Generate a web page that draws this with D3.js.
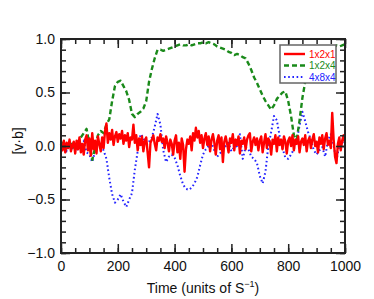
<!DOCTYPE html>
<html lang="en">
<head>
<meta charset="UTF-8" />
<title>v.b vs time</title>
<script src="https://d3js.org/d3.v7.js"></script>
<style>
  body { margin: 0; background: #fff; }
  text { font-family: "Liberation Sans", Arial, sans-serif; }
</style>
</head>
<body>
<div id="graph-space"></div>
<script>
  // series values
  const seriesNames = ["1x2x1", "1x2x4", "4x8x4"];
  const redStep = 5;
  const red = [
    0.02, -0.04, 0.05, -0.06, 0.03, -0.02, 0.06, -0.05, 0.01, 0.04,
    -0.07, 0.05, -0.03, 0.08, -0.06, 0.02, -0.08, 0.06, 0.10, -0.04,
    0.07, -0.09, 0.12, -0.03, 0.05, -0.07, 0.09, 0.02, -0.05, 0.08,
    -0.02, 0.14, 0.21, 0.03, 0.12, 0.06, 0.15, 0.01, 0.09, 0.13,
    0.04, 0.11, 0.07, 0.14, 0.02, 0.10, 0.05, 0.12, -0.01, 0.08,
    0.06, 0.20, 0.03, 0.10, -0.04, 0.07, 0.01, 0.09, -0.05, 0.04,
    0.08, -0.06, -0.20, 0.03, 0.06, 0.10, 0.02, -0.04, 0.08, 0.05,
    0.11, 0.04, 0.07, -0.02, 0.09, 0.03, -0.05, 0.06, 0.02, -0.08,
    0.05, 0.10, -0.06, 0.03, -0.12, 0.07, 0.01, -0.24, -0.03, 0.06,
    0.02, 0.09, -0.04, 0.12, 0.05, 0.17, 0.08, 0.14, 0.03, 0.10,
    -0.02, 0.07, 0.12, 0.01, 0.09, -0.05, 0.06, 0.11, 0.03, -0.08,
    0.05, 0.10, -0.03, 0.08, -0.15, 0.04, 0.09, 0.02, -0.06, 0.07,
    0.03, 0.11, -0.04, 0.06, 0.01, 0.09, -0.07, 0.05, 0.02, 0.08,
    -0.03, 0.06, 0.10, 0.12, -0.05, 0.04, 0.08, 0.01, 0.07, -0.04,
    0.05, 0.09, -0.06, 0.03, 0.11, -0.02, 0.07, 0.04, -0.08, 0.06,
    0.02, 0.10, -0.05, 0.08, 0.01, 0.06, -0.03, 0.09, 0.04, -0.07,
    0.05, 0.08, 0.00, 0.10, -0.04, 0.06, 0.02, 0.09, -0.06, 0.04,
    0.07, 0.01, 0.10, -0.05, 0.05, 0.08, -0.02, 0.06, 0.11, 0.00,
    0.04, -0.06, 0.08, 0.02, 0.10, -0.03, 0.07, 0.12, 0.01, 0.05,
    -0.02, 0.31, 0.06, -0.10, -0.16, 0.02, 0.08, -0.04, 0.05, 0.10,
    0.03
  ];
  const slowStep = 10;
  const green = [
    0.00, 0.04, -0.02, 0.03, 0.01, -0.03, 0.04, 0.08, 0.12, 0.16,
    0.02, -0.13, -0.02, 0.10, 0.14, 0.12, 0.20, 0.25, 0.42, 0.56,
    0.60, 0.61, 0.56, 0.51, 0.43, 0.30, 0.27, 0.30, 0.32, 0.35,
    0.42, 0.60, 0.72, 0.82, 0.90, 0.90, 0.89, 0.90, 0.91, 0.92,
    0.93, 0.94, 0.95, 0.94, 0.94, 0.95, 0.94, 0.95, 0.96, 0.96,
    0.97, 0.96, 0.97, 0.96, 0.95, 0.93, 0.92, 0.91, 0.90, 0.88,
    0.87, 0.85, 0.86, 0.85, 0.83, 0.82, 0.77, 0.71, 0.64, 0.59,
    0.53, 0.47, 0.42, 0.38, 0.34, 0.38, 0.44, 0.47, 0.50, 0.51,
    0.42, 0.28, 0.10, 0.06, 0.24, 0.45, 0.60, 0.72, 0.82, 0.88,
    0.88, 0.90, 0.92, 0.90, 0.92, 0.93, 0.92, 0.94, 0.93, 0.94,
    0.95
  ];
  const blue = [
    -0.03, 0.02, -0.05, 0.01, -0.02, 0.03, -0.04, 0.00, 0.05, -0.06,
    -0.08, -0.15, -0.05, 0.02, 0.00, -0.04, -0.12, -0.30, -0.45, -0.53,
    -0.50, -0.45, -0.52, -0.57, -0.50, -0.44, -0.22, -0.05, 0.11, 0.08,
    0.00, 0.04, 0.08, 0.18, 0.30, 0.20, -0.04, -0.15, -0.10, -0.08,
    -0.11, -0.18, -0.28, -0.36, -0.40, -0.41, -0.39, -0.35, -0.29, -0.18,
    -0.08, -0.03, 0.00, 0.03, -0.04, -0.10, -0.07, -0.03, 0.00, 0.03,
    -0.05, -0.01, 0.00, 0.11, -0.12, -0.01, -0.03, -0.10, -0.12, -0.16,
    -0.28, -0.35, -0.24, 0.00, 0.13, 0.28, 0.24, 0.09, -0.02, -0.11,
    -0.12, -0.08, -0.03, 0.05, 0.19, 0.32, 0.23, 0.13, 0.06, -0.04,
    -0.08, -0.04, -0.01, -0.10, 0.05, 0.11, 0.00, -0.13, 0.00, 0.04,
    -0.02
  ];
  const xTicks = [0, 200, 400, 600, 800, 1000];
  const yTicks = [-1.0, -0.5, 0.0, 0.5, 1.0];

  const width = 374
  const height = 299
  const margin = { left: 61, top: 39, right: 29, bottom: 46 }

  const svg = d3.select("#graph-space")
    .append("svg")
    .attr("width", width)
    .attr("height", height)

  const xScale = d3.scaleLinear()
    .domain([0, 1000])
    .range([margin.left, width - margin.right])
  const yScale = d3.scaleLinear()
    .domain([-1, 1])
    .range([height - margin.bottom, margin.top])

  const colors = ["#ff0000", "#1a8a1a", "#2323ff"]
  const dashes = [null, "5,3", "1.6,2.6"]
  const widths = [2.4, 2.4, 2]

  const series = [
    red.map((v, i) => [i * redStep, v]),
    green.map((v, i) => [i * slowStep, v]),
    blue.map((v, i) => [i * slowStep, v])
  ]

  const line = d3.line()
    .x(d => xScale(d[0]))
    .y(d => yScale(d[1]))

  // draw lines: blue first, then green, red on top
  const order = [2, 1, 0]
  order.forEach(k => {
    svg.append("path")
      .datum(series[k])
      .attr("fill", "none")
      .attr("stroke", colors[k])
      .attr("stroke-width", widths[k])
      .attr("stroke-dasharray", dashes[k])
      .attr("stroke-linejoin", "round")
      .attr("d", line)
  })

  // axes, ticks inward on all four sides
  const fmtY = d => d3.format(".1f")(d).replace("-", "\u2212")
  const tickStyle = g => {
    g.select(".domain").remove()
    g.selectAll("line").attr("stroke", "#222").attr("stroke-width", 1.5)
  }
  const xMinor = d3.range(0, 1001, 50)
  const yMinor = d3.range(-10, 11).map(d => d / 10)

  svg.append("g")
    .attr("transform", `translate(0,${height - margin.bottom})`)
    .call(d3.axisBottom(xScale).tickValues(xMinor).tickSize(-5).tickFormat(""))
    .call(tickStyle)
  svg.append("g")
    .attr("transform", `translate(0,${height - margin.bottom})`)
    .call(d3.axisBottom(xScale).tickValues(xTicks).tickSize(-9).tickPadding(8).tickFormat(d3.format("d")))
    .call(tickStyle)
    .selectAll("text").attr("font-size", 14).attr("fill", "#111")
  svg.append("g")
    .attr("transform", `translate(0,${margin.top})`)
    .call(d3.axisTop(xScale).tickValues(xMinor).tickSize(-5).tickFormat(""))
    .call(tickStyle)
  svg.append("g")
    .attr("transform", `translate(0,${margin.top})`)
    .call(d3.axisTop(xScale).tickValues(xTicks).tickSize(-9).tickFormat(""))
    .call(tickStyle)

  svg.append("g")
    .attr("transform", `translate(${margin.left},0)`)
    .call(d3.axisLeft(yScale).tickValues(yMinor).tickSize(-5).tickFormat(""))
    .call(tickStyle)
  svg.append("g")
    .attr("transform", `translate(${margin.left},0)`)
    .call(d3.axisLeft(yScale).tickValues(yTicks).tickSize(-9).tickPadding(6).tickFormat(fmtY))
    .call(tickStyle)
    .selectAll("text").attr("font-size", 14).attr("fill", "#111")
  svg.append("g")
    .attr("transform", `translate(${width - margin.right},0)`)
    .call(d3.axisRight(yScale).tickValues(yMinor).tickSize(-5).tickFormat(""))
    .call(tickStyle)
  svg.append("g")
    .attr("transform", `translate(${width - margin.right},0)`)
    .call(d3.axisRight(yScale).tickValues(yTicks).tickSize(-9).tickFormat(""))
    .call(tickStyle)

  // frame
  svg.append("rect")
    .attr("x", margin.left)
    .attr("y", margin.top)
    .attr("width", width - margin.left - margin.right)
    .attr("height", height - margin.top - margin.bottom)
    .attr("fill", "none")
    .attr("stroke", "#222")
    .attr("stroke-width", 2)

  // axis titles
  const xTitle = svg.append("text")
    .attr("x", (margin.left + width - margin.right) / 2)
    .attr("y", 293)
    .attr("text-anchor", "middle")
    .attr("font-size", 14)
    .attr("fill", "#111")
  xTitle.append("tspan").text("Time (units of S")
  xTitle.append("tspan").attr("font-size", 9).attr("dy", -6).text("\u22121")
  xTitle.append("tspan").attr("dy", 6).text(")")

  svg.append("text")
    .attr("transform", `translate(23,${yScale(0) - 5}) rotate(-90)`)
    .attr("text-anchor", "middle")
    .attr("font-size", 14)
    .attr("fill", "#111")
    .text("[v\u00b7b]")

  // legend
  const legend = svg.append("g").attr("transform", "translate(280,45)")
  legend.append("rect")
    .attr("width", 56)
    .attr("height", 38)
    .attr("fill", "#fff")
    .attr("stroke", "#666")
    .attr("stroke-width", 1.5)
  seriesNames.forEach((name, k) => {
    const yy = 9 + k * 11.5
    legend.append("line")
      .attr("x1", 4).attr("x2", 25)
      .attr("y1", yy).attr("y2", yy)
      .attr("stroke", colors[k])
      .attr("stroke-width", widths[k])
      .attr("stroke-dasharray", dashes[k])
    legend.append("text")
      .attr("x", 29)
      .attr("y", yy + 3.5)
      .attr("font-size", 10)
      .attr("fill", colors[k])
      .text(name)
  })
</script>
</body>
</html>
